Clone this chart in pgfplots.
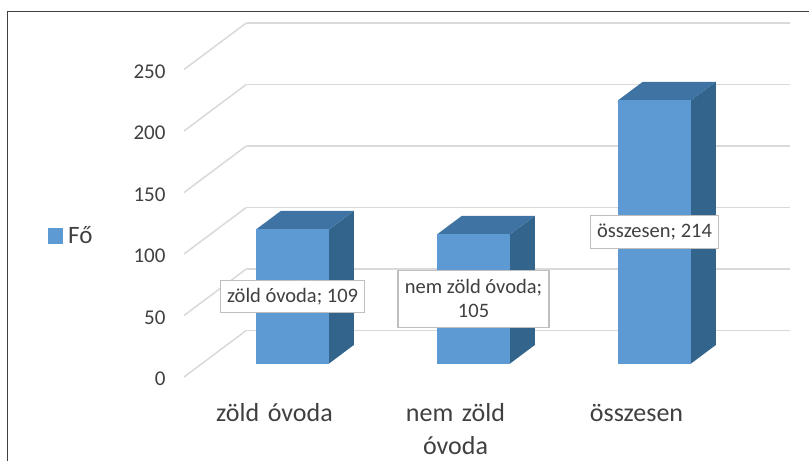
\documentclass[border=0pt]{standalone}
\usepackage{pgfplots}
\pgfplotsset{compat=1.18}
\usepackage{fontspec}
\setmainfont{Carlito}
\definecolor{front}{RGB}{93,153,210}
\definecolor{side}{RGB}{51,100,140}
\definecolor{topf}{RGB}{63,115,163}
\definecolor{txt}{RGB}{64,64,64}
\definecolor{gridc}{RGB}{217,217,217}
\definecolor{boxc}{RGB}{191,191,191}
\begin{document}
\begin{tikzpicture}[x=1pt,y=1pt]
\useasboundingbox (0,0) rectangle (809,461);
\draw[color=txt,line width=1.2pt] (7.5,0) -- (7.5,449.5) -- (809,449.5);
\begin{axis}[
  at={(274.5pt,84pt)}, anchor=origin,
  x={(181pt,0pt)}, y={(62.5pt,46.7pt)}, z={(0pt,1.23pt)},
  xmin=-0.5, xmax=2.5, ymin=0, ymax=1, zmin=0, zmax=250,
  xtick={0,1,2}, ytick=\empty, ztick={0,50,100,150,200,250},
  xticklabels={z\"old \'ovoda,{nem z\"old\\\'ovoda},{\vphantom{l}\"osszesen}},
  xticklabel style={font=\fontsize{26pt}{33pt}\selectfont,color=txt,align=center,text width=160pt,anchor=north,yshift=-23pt},
  zticklabel style={font=\fontsize{21pt}{24pt}\selectfont,color=txt,anchor=east,xshift=-15pt,yshift=-2pt},
  /pgf/number format/assume math mode=true,
  axis line style={draw=none},
  major tick length=0pt,
  zmajorgrids=true,
  grid style={color=gridc,line width=1.5pt},
  clip=false,
  legend image code/.code={\fill[#1] (0pt,-7.5pt) rectangle (15pt,7.5pt);},
  legend style={draw=none,fill=none,font=\fontsize{25pt}{28pt}\selectfont,text=txt,
    at={(axis cs:-0.5,0,0)},anchor=west,xshift=-139pt,yshift=141pt,
    /tikz/every even column/.append style={column sep=2pt}},
  legend cell align=left,
]
% zöld óvoda
\addplot3[fill=side,draw=none,forget plot] coordinates {(0.2017,0.289,0)(0.2017,0.685,0)(0.2017,0.685,109)(0.2017,0.289,109)};
\addplot3[fill=topf,draw=none,forget plot] coordinates {(-0.2017,0.289,109)(0.2017,0.289,109)(0.2017,0.685,109)(-0.2017,0.685,109)};
\addplot3[fill=front,draw=none] coordinates {(-0.2017,0.289,0)(0.2017,0.289,0)(0.2017,0.289,109)(-0.2017,0.289,109)};
\addlegendentry{\hspace{3pt}F\H{o}}
% nem zöld óvoda
\addplot3[fill=side,draw=none,forget plot] coordinates {(1.2017,0.289,0)(1.2017,0.685,0)(1.2017,0.685,105)(1.2017,0.289,105)};
\addplot3[fill=topf,draw=none,forget plot] coordinates {(0.7983,0.289,105)(1.2017,0.289,105)(1.2017,0.685,105)(0.7983,0.685,105)};
\addplot3[fill=front,draw=none,forget plot] coordinates {(0.7983,0.289,0)(1.2017,0.289,0)(1.2017,0.289,105)(0.7983,0.289,105)};
% összesen
\addplot3[fill=side,draw=none,forget plot] coordinates {(2.2017,0.289,0)(2.2017,0.685,0)(2.2017,0.685,214)(2.2017,0.289,214)};
\addplot3[fill=topf,draw=none,forget plot] coordinates {(1.7983,0.289,214)(2.2017,0.289,214)(2.2017,0.685,214)(1.7983,0.685,214)};
\addplot3[fill=front,draw=none,forget plot] coordinates {(1.7983,0.289,0)(2.2017,0.289,0)(2.2017,0.289,214)(1.7983,0.289,214)};
\tikzset{dl/.style={draw=boxc,line width=1.5pt,fill=white,text=txt,align=center,inner sep=0pt,font=\fontsize{20.5pt}{24pt}\selectfont}}
\node[dl,minimum width=144pt,minimum height=32pt] at (axis cs:0,0.289,54.5) {z\"old \'ovoda; 109};
\node[dl,minimum width=151pt,minimum height=57pt] at (axis cs:1,0.289,52.5) {nem z\"old \'ovoda;\\105};
\node[dl,minimum width=128pt,minimum height=33pt] at (axis cs:2,0.289,107) {\"osszesen; 214};
\end{axis}
\end{tikzpicture}
\end{document}
